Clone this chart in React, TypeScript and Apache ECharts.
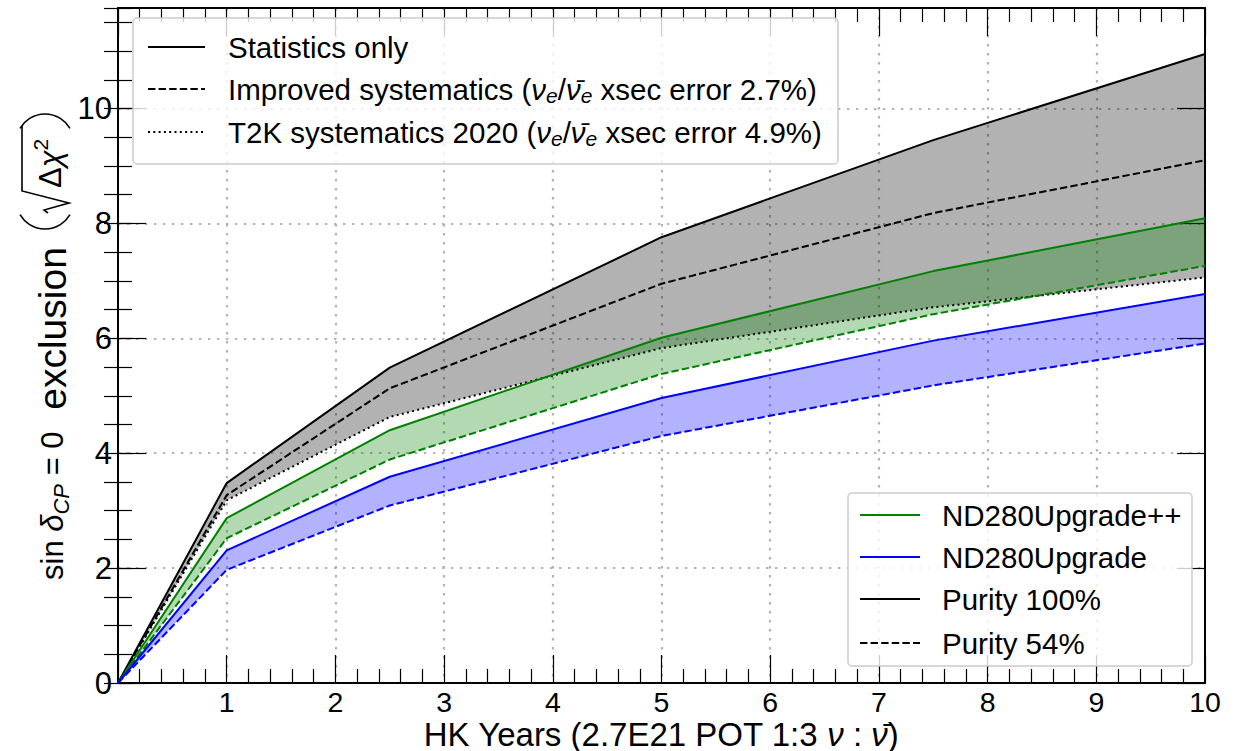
import React, { useEffect, useRef } from 'react';
import * as echarts from 'echarts';

// ---- data ----
const years = [0, 1, 2.5, 5, 7.5, 10];
// black: statistics / systematics envelopes
const statOnly = [0, 3.48, 5.49, 7.76, 9.45, 10.95];
const improvedSyst = [0, 3.27, 5.13, 6.95, 8.18, 9.1];
const t2kSyst2020 = [0, 3.18, 4.63, 5.83, 6.54, 7.06];
// green: ND280Upgrade++
const ndppPurity100 = [0, 2.87, 4.4, 6.01, 7.17, 8.09];
const ndppPurity54 = [0, 2.52, 3.89, 5.38, 6.42, 7.26];
// blue: ND280Upgrade
const ndPurity100 = [0, 2.31, 3.59, 4.96, 5.96, 6.77];
const ndPurity54 = [0, 1.97, 3.09, 4.3, 5.18, 5.91];

const xMin = 0;
const xMax = 10;
const yMin = 0;
const yMax = 11.75;

const topLegendLabels = [
  '{n|Statistics only}',
  '{n|Improved systematics (}{i|ν}{s|e}{n|/}{i|ν̄}{s|e}{n| xsec error 2.7%)}',
  '{n|T2K systematics 2020 (}{i|ν}{s|e}{n|/}{i|ν̄}{s|e}{n| xsec error 4.9%)}',
];
const bottomLegendLabels = ['ND280Upgrade++', 'ND280Upgrade', 'Purity 100%', 'Purity 54%'];
const xTitle = '{n|HK Years (2.7E21 POT 1:3 }{i|ν}{n| : }{i|ν̄}{n|)}';
const yTitleMain = '{m|sin }{i|δ}{s|CP}{m| = 0}{e|  exclusion}';
const yTitleRoot = '{m|Δ}{i|χ}{u|2}';

const FONT = 'Liberation Sans, Arial, Helvetica, sans-serif';

const pts = (ys: number[]) => years.map((x, i) => [x, ys[i]]);

const DASH = [7.4, 3.2];
const DOT = [2, 3.3];

export default function App() {
  const ref = useRef<HTMLDivElement>(null);
  useEffect(() => {
    const chart = echarts.init(ref.current!, null, { renderer: 'svg' });

    const mkRich = (fs: number, lh: number) => ({
      n: { fontSize: fs, fontFamily: FONT, fill: '#000', lineHeight: lh, verticalAlign: 'middle' },
      i: { fontSize: fs, fontFamily: FONT, fontStyle: 'italic', fill: '#000', lineHeight: lh, verticalAlign: 'middle' },
      s: { fontSize: Math.round(fs * 0.7), fontFamily: FONT, fontStyle: 'italic', fill: '#000', lineHeight: Math.round(fs * 0.72), verticalAlign: 'bottom' },
    });
    const legendRich = mkRich(29.5, 34);
    const titleRich = mkRich(33, 24);

    const band = (lo: number[], hi: number[], color: string) => ({
      type: 'custom',
      silent: true,
      z: 1,
      clip: true,
      encode: { x: 0, y: [1, 2] },
      data: years.map((x, i) => [x, lo[i], hi[i]]),
      renderItem: (params: any, api: any) => {
        if (params.dataIndex !== 0) return null;
        const upper = hi.map((v, i) => api.coord([years[i], v]));
        const lower = lo.map((v, i) => api.coord([years[i], v])).reverse();
        return {
          type: 'polygon',
          shape: { points: upper.concat(lower) },
          style: { fill: color, stroke: 'none' },
        };
      },
    });
    const line = (data: number[][], color: string, type: any) => ({
      type: 'line',
      data,
      symbol: 'none',
      silent: true,
      z: 3,
      lineStyle: { color, width: 2, type },
    });

    const tickCommon = { inside: true, lineStyle: { color: '#000', width: 1.2 } };

    const topLegendY = [47, 89, 132];
    const topLegendDash: any[] = [null, DASH, DOT];
    const botLegendY = [515, 557, 599, 643];
    const botLegendColor = ['#008000', '#0000ff', '#000', '#000'];
    const botLegendDash: any[] = [null, null, null, DASH];

    const yRich = {
      m: { fontSize: 31, fontFamily: FONT, fill: '#000', lineHeight: 40, verticalAlign: 'middle' },
      e: { fontSize: 39, fontFamily: FONT, fill: '#000', lineHeight: 40, verticalAlign: 'middle' },
      i: { fontSize: 31, fontFamily: FONT, fontStyle: 'italic', fill: '#000', lineHeight: 40, verticalAlign: 'middle' },
      s: { fontSize: 22, fontFamily: FONT, fontStyle: 'italic', fill: '#000', lineHeight: 26, verticalAlign: 'bottom' },
      u: { fontSize: 21, fontFamily: FONT, fill: '#000', lineHeight: 26, verticalAlign: 'top' },
    };

    // parenthesis arcs around the square root (rotated label)
    const pr = 29;
    const half = Math.asin(25 / pr);

    const graphic: any[] = [
      {
        type: 'rect',
        z: 100,
        shape: { x: 133, y: 18, width: 705, height: 146, r: 4 },
        style: { fill: 'rgba(255,255,255,0.8)', stroke: '#cccccc', lineWidth: 1.5 },
      },
      ...topLegendY.map((y, k) => ({
        type: 'line',
        z: 101,
        shape: { x1: 148, y1: y, x2: 205, y2: y },
        style: { stroke: '#000', lineWidth: 2, lineDash: topLegendDash[k] },
      })),
      ...topLegendY.map((y, k) => ({
        type: 'text',
        z: 101,
        x: 228,
        y: y,
        style: { text: topLegendLabels[k], rich: legendRich, verticalAlign: 'middle', align: 'left' },
      })),
      {
        type: 'rect',
        z: 100,
        shape: { x: 848, y: 493, width: 344, height: 173, r: 4 },
        style: { fill: 'rgba(255,255,255,0.8)', stroke: '#cccccc', lineWidth: 1.5 },
      },
      ...botLegendY.map((y, k) => ({
        type: 'line',
        z: 101,
        shape: { x1: 860, y1: y, x2: 920, y2: y },
        style: { stroke: botLegendColor[k], lineWidth: 2, lineDash: botLegendDash[k] },
      })),
      ...botLegendY.map((y, k) => ({
        type: 'text',
        z: 101,
        x: 942,
        y: y,
        style: {
          text: bottomLegendLabels[k],
          fill: '#000',
          font: `29.5px ${FONT}`,
          verticalAlign: 'middle',
          align: 'left',
        },
      })),
      // x axis title
      {
        type: 'text',
        z: 101,
        x: 661,
        y: 734,
        style: { text: xTitle, rich: titleRich, align: 'center', verticalAlign: 'middle' },
      },
      // y axis title: main part, reading bottom to top
      {
        type: 'text',
        z: 101,
        x: 52,
        y: 580,
        rotation: Math.PI / 2,
        style: { text: yTitleMain, rich: yRich, align: 'left', verticalAlign: 'middle' },
      },
      // y axis title: sqrt content
      {
        type: 'text',
        z: 101,
        x: 50,
        y: 188,
        rotation: Math.PI / 2,
        style: { text: yTitleRoot, rich: yRich, align: 'left', verticalAlign: 'middle' },
      },
      // radical sign with its bar
      {
        type: 'polyline',
        z: 101,
        shape: { points: [[48, 213], [44, 210], [69, 203], [22, 191], [22, 126]] },
        style: { stroke: '#000', lineWidth: 1.6, fill: 'none' },
      },
      // "(" (bulging downward) and ")" (bulging upward)
      {
        type: 'arc',
        z: 101,
        shape: { cx: 45, cy: 229 - pr, r: pr, startAngle: Math.PI / 2 - half, endAngle: Math.PI / 2 + half, clockwise: true },
        style: { stroke: '#000', lineWidth: 1.6, fill: 'none' },
      },
      {
        type: 'arc',
        z: 101,
        shape: { cx: 45, cy: 114 + pr, r: pr, startAngle: -Math.PI / 2 - half, endAngle: -Math.PI / 2 + half, clockwise: true },
        style: { stroke: '#000', lineWidth: 1.6, fill: 'none' },
      },
    ];

    const option: any = {
      animation: false,
      backgroundColor: '#fff',
      grid: { left: 118, right: 40, top: 8, bottom: 68, containLabel: false },
      xAxis: [
        {
          type: 'value',
          position: 'bottom',
          min: xMin,
          max: xMax,
          interval: 1,
          axisLine: { show: true, onZero: false, lineStyle: { color: '#000', width: 2 } },
          axisTick: { ...tickCommon, length: 28 },
          minorTick: { show: true, splitNumber: 5, length: 14, lineStyle: { color: '#000', width: 1.2 } },
          splitLine: { show: true, lineStyle: { color: '#b3b3b3', width: 2.2, type: [2.4, 6.6] } },
          axisLabel: {
            fontSize: 28.5,
            fontFamily: FONT,
            color: '#000',
            margin: 8,
            lineHeight: 22,
            formatter: (v: number) => (v === 0 ? '' : String(v)),
          },
        },
        {
          type: 'value',
          position: 'top',
          min: xMin,
          max: xMax,
          interval: 1,
          axisLine: { show: true, onZero: false, lineStyle: { color: '#000', width: 2 } },
          axisTick: { ...tickCommon, length: 28 },
          minorTick: { show: true, splitNumber: 5, length: 14, lineStyle: { color: '#000', width: 1.2 } },
          splitLine: { show: false },
          axisLabel: { show: false },
        },
      ],
      yAxis: [
        {
          type: 'value',
          position: 'left',
          min: yMin,
          max: yMax,
          interval: 2,
          axisLine: { show: true, onZero: false, lineStyle: { color: '#000', width: 2 } },
          axisTick: { ...tickCommon, length: 28 },
          splitLine: { show: true, lineStyle: { color: '#b3b3b3', width: 2.2, type: [2.4, 6.6] } },
          axisLabel: {
            fontSize: 31,
            fontFamily: FONT,
            color: '#000',
            margin: 6,
            showMaxLabel: false,
            formatter: (v: number) => (v % 2 === 0 ? String(v) : ''),
          },
        },
        {
          type: 'value',
          position: 'left',
          min: yMin,
          max: yMax,
          interval: 0.5,
          axisLine: { show: false },
          axisTick: { ...tickCommon, length: 14 },
          splitLine: { show: false },
          axisLabel: { show: false },
        },
        {
          type: 'value',
          position: 'right',
          min: yMin,
          max: yMax,
          interval: 2,
          axisLine: { show: true, onZero: false, lineStyle: { color: '#000', width: 2 } },
          axisTick: { ...tickCommon, length: 28 },
          splitLine: { show: false },
          axisLabel: { show: false },
        },
        {
          type: 'value',
          position: 'right',
          min: yMin,
          max: yMax,
          interval: 0.5,
          axisLine: { show: false },
          axisTick: { ...tickCommon, length: 14 },
          splitLine: { show: false },
          axisLabel: { show: false },
        },
      ],
      graphic,
      series: [
        band(t2kSyst2020, statOnly, 'rgba(0,0,0,0.3)'),
        band(ndppPurity54, ndppPurity100, 'rgba(0,128,0,0.3)'),
        band(ndPurity54, ndPurity100, 'rgba(0,0,255,0.3)'),
        line(pts(statOnly), '#000', 'solid'),
        line(pts(improvedSyst), '#000', DASH),
        line(pts(t2kSyst2020), '#000', DOT),
        line(pts(ndppPurity100), '#008000', 'solid'),
        line(pts(ndppPurity54), '#008000', DASH),
        line(pts(ndPurity100), '#0000ff', 'solid'),
        line(pts(ndPurity54), '#0000ff', DASH),
      ],
    };
    chart.setOption(option);
    return () => chart.dispose();
  }, []);
  return (
    <div
      ref={ref}
      style={{ position: 'absolute', left: 0, top: 0, width: 1245, height: 751, background: '#fff' }}
    />
  );
}
